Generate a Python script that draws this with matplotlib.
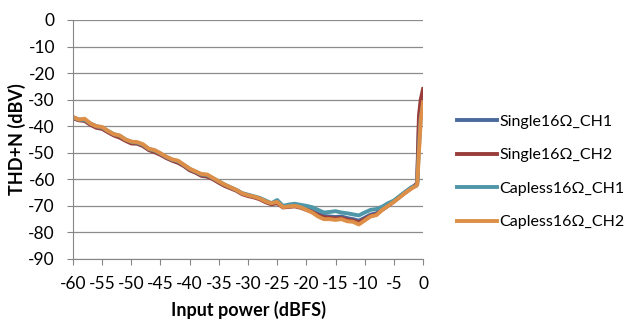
import numpy as np
import matplotlib
matplotlib.use("Agg")
import matplotlib.pyplot as plt

plt.rcParams['font.family'] = ['Lato', 'DejaVu Sans']
plt.rcParams['axes.unicode_minus'] = False

# input power (dBFS), shared by all four curves
x = [-60, -59, -58, -57, -56, -55, -54, -53, -52, -51,
     -50, -49, -48, -47, -46, -45, -44, -43, -42, -41,
     -40, -39, -38, -37, -36, -35, -34, -33, -32, -31,
     -30, -29, -28, -27, -26, -25, -24, -23, -22, -21,
     -20, -19, -18, -17, -16, -15, -14, -13, -12, -11,
     -10, -9, -8, -7, -6, -5, -4, -3, -2,
     -1.2, -1.0, -0.7, -0.4, 0]

# THD+N (dBV)
single_ch1 = [-36.8, -37.6, -37.8, -39.2, -40.3, -40.8, -42.0, -43.2, -44.0, -45.2,
              -46.2, -46.4, -47.2, -48.8, -49.5, -50.5, -51.8, -52.8, -53.5, -54.8,
              -56.3, -57.3, -58.4, -58.8, -59.8, -61.0, -62.3, -63.2, -64.1, -65.4,
              -66.0, -66.6, -67.2, -68.3, -69.2, -68.5, -70.3, -70.0, -69.8, -70.3,
              -71.0, -72.0, -73.0, -73.8, -74.0, -74.2, -74.0, -74.6, -75.0, -75.6,
              -74.5, -73.3, -72.8, -71.2, -69.8, -68.2, -66.5, -64.8, -63.2,
              -62.0, -61.5, -40.0, -32.0, -28.0]
single_ch2 = [-37.0, -37.8, -38.0, -39.5, -40.6, -41.0, -42.3, -43.5, -44.3, -45.5,
              -46.5, -46.6, -47.5, -49.0, -49.8, -50.8, -52.0, -53.0, -53.8, -55.0,
              -56.6, -57.5, -58.7, -59.0, -60.0, -61.3, -62.5, -63.4, -64.3, -65.6,
              -66.3, -66.8, -67.5, -68.6, -69.4, -69.0, -70.6, -70.4, -70.2, -70.7,
              -71.5, -72.3, -73.5, -74.3, -74.5, -74.7, -74.6, -75.2, -75.6, -76.2,
              -75.0, -73.8, -73.2, -71.5, -70.0, -68.4, -66.6, -65.0, -63.3,
              -62.0, -61.0, -36.0, -30.0, -26.0]
capless_ch1 = [-36.7, -37.5, -37.6, -39.0, -40.0, -40.5, -41.8, -43.0, -43.6, -45.0,
               -45.9, -46.2, -47.0, -48.6, -49.2, -50.3, -51.6, -52.6, -53.2, -54.6,
               -56.1, -57.1, -58.2, -58.4, -59.6, -60.8, -62.0, -63.0, -64.0, -65.2,
               -65.8, -66.4, -67.0, -68.0, -69.0, -67.8, -70.0, -69.5, -69.2, -69.6,
               -70.0, -70.5, -71.5, -72.5, -72.3, -72.0, -72.5, -72.8, -73.2, -73.6,
               -72.5, -71.5, -71.2, -70.3, -69.0, -68.0, -66.3, -64.6, -63.0,
               -62.5, -62.0, -48.0, -37.0, -32.0]
capless_ch2 = [-36.5, -37.5, -37.2, -39.0, -40.0, -40.3, -41.8, -43.0, -43.5, -45.0,
               -45.8, -46.0, -46.8, -48.5, -49.0, -50.2, -51.5, -52.5, -53.0, -54.5,
               -56.0, -57.0, -58.0, -58.2, -59.5, -60.8, -62.0, -63.0, -64.0, -65.3,
               -66.0, -66.5, -67.2, -68.3, -69.0, -68.5, -70.5, -70.2, -70.0, -70.5,
               -71.5, -72.5, -74.0, -75.0, -75.0, -75.3, -75.0, -75.8, -76.0, -77.0,
               -75.5, -74.0, -73.5, -71.5, -70.0, -68.5, -66.8, -65.0, -63.5,
               -62.5, -62.0, -50.0, -38.0, -31.0]

labels = ['Single16Ω_CH1', 'Single16Ω_CH2', 'Capless16Ω_CH1', 'Capless16Ω_CH2']
colors = ['#4a6a9a', '#9a3e3c', '#4f97a8', '#dd8f48']

fig = plt.figure(figsize=(6.33, 3.27), dpi=100)
ax = fig.add_axes([0.1153, 0.208, 0.5530, 0.731])

for y, lab, c in zip([single_ch1, single_ch2, capless_ch1, capless_ch2], labels, colors):
    ax.plot(x, y, color=c, lw=2.8, label=lab, solid_joinstyle='round')

ax.set_xlim(-60, 0)
ax.set_ylim(-90, 0)
ax.set_xticks(np.arange(-60, 1, 5))
ax.set_yticks(np.arange(-90, 1, 10))
ax.grid(axis='y', color='#8c8c8c', lw=0.9)
ax.set_axisbelow(True)
for s in ['top', 'right']:
    ax.spines[s].set_visible(False)
for s in ['left', 'bottom']:
    ax.spines[s].set_color('#868686')
ax.tick_params(colors='#868686', labelcolor='black', labelsize=12.5, length=4, pad=9)
ax.tick_params(axis='x', pad=8)

ax.set_xlabel('Input power (dBFS)', fontsize=13, fontweight='bold', labelpad=7)
ax.set_ylabel('THD+N (dBV)', fontsize=13, fontweight='bold', labelpad=2)

fig.legend(loc='center left', bbox_to_anchor=(0.700, 0.474), frameon=False,
           fontsize=11.5, handlelength=2.5, handletextpad=0.1, labelspacing=1.2)

fig.savefig('out.png', dpi=100)
